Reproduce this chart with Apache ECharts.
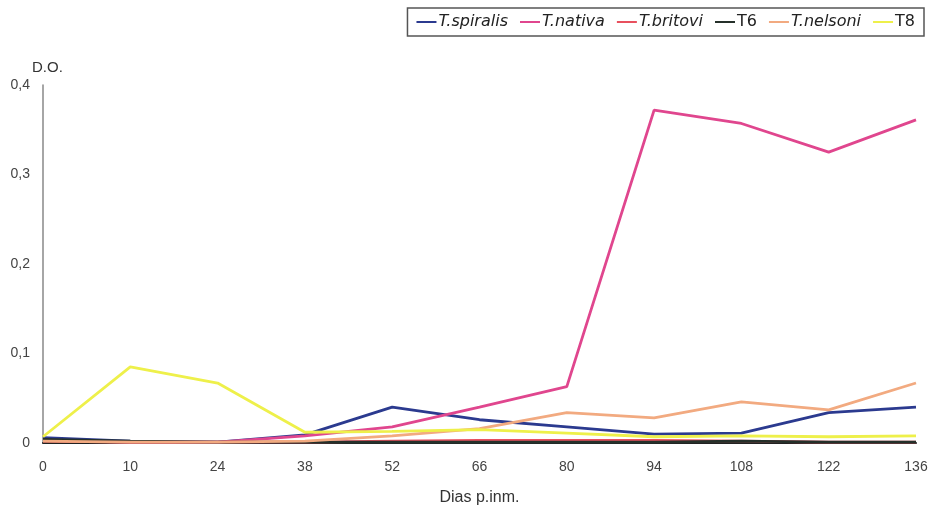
<!DOCTYPE html>
<html>
<head>
<meta charset="utf-8">
<script src="https://cdn.jsdelivr.net/npm/echarts@6/dist/echarts.min.js"></script>
<style>html,body{margin:0;padding:0;background:#fff}#c{width:932px;height:516px}</style>
</head>
<body>
<div id="c"></div>
<script>
var categories = ['0','10','24','38','52','66','80','94','108','122','136'];
var tSpiralis = [0.006,0.002,0.001,0.009,0.040,0.026,0.018,0.010,0.011,0.034,0.040];
var tNativa   = [0.003,0.001,0.001,0.008,0.018,0.040,0.063,0.372,0.357,0.325,0.361];
var tBritovi  = [0.002,0.001,0.001,0.001,0.002,0.003,0.003,0.003,0.002,0.001,0.001];
var t6        = [0.004,0.002,0.001,0.001,0.001,0.001,0.001,0.001,0.002,0.001,0.001];
var tNelsoni  = [0.002,0.001,0.001,0.002,0.008,0.016,0.034,0.028,0.046,0.037,0.067];
var t8        = [0.007,0.085,0.067,0.012,0.013,0.015,0.011,0.007,0.008,0.007,0.008];
var yTicks = ['0','0,1','0,2','0,3','0,4'];

var seriesDefs = [
  {name:'T.spiralis', data:tSpiralis, color:'#2b3a8f'},
  {name:'T.nativa', data:tNativa, color:'#e0468e'},
  {name:'T.britovi', data:tBritovi, color:'#e8505e'},
  {name:'T6', data:t6, color:'#25302a'},
  {name:'T.nelsoni', data:tNelsoni, color:'#f2aa80'},
  {name:'T8', data:t8, color:'#eef04a'}
];
var italicNames = {'T.spiralis':1,'T.nativa':1,'T.britovi':1,'T.nelsoni':1};

var chart = echarts.init(document.getElementById('c'));
chart.setOption({
  animation:false,
  backgroundColor:'#fff',
  textStyle:{fontFamily:'Liberation Sans'},
  legend:{
    right:8, top:8,
    borderColor:'#555', borderWidth:1.5, padding:[6,9,6,9],
    itemGap:12, itemWidth:20, itemHeight:2, icon:'rect',
    data:seriesDefs.map(function(s){return s.name;}),
    formatter:function(n){return italicNames[n]?'{i|'+n+'}':'{n|'+n+'}';},
    textStyle:{
      color:'#222', fontSize:16, padding:[0,0,0,-3],
      rich:{
        i:{fontStyle:'italic', fontSize:16, color:'#222', fontFamily:'DejaVu Sans'},
        n:{fontSize:16, color:'#222', fontFamily:'DejaVu Sans'}
      }
    }
  },
  graphic:[{type:'text', left:32, top:60, style:{text:'D.O.', fontSize:15, fill:'#333', fontFamily:'Liberation Sans'}}],
  grid:{left:43, right:16, top:85, bottom:73},
  xAxis:{
    type:'category', boundaryGap:false, data:categories,
    name:'Dias p.inm.', nameLocation:'middle', nameGap:47,
    nameTextStyle:{fontSize:16, color:'#333'},
    axisLine:{lineStyle:{color:'#222', width:2}},
    axisTick:{show:false},
    axisLabel:{color:'#444', fontSize:14, margin:17}
  },
  yAxis:{
    type:'value', min:0, max:0.4, interval:0.1,
    axisLine:{show:true, lineStyle:{color:'#888', width:1.5}},
    axisTick:{show:false},
    splitLine:{show:false},
    axisLabel:{color:'#444', fontSize:14, margin:13,
      formatter:function(v){return yTicks[Math.round(v*10)];}}
  },
  series:seriesDefs.map(function(s){
    return {name:s.name, type:'line', data:s.data, showSymbol:false, symbol:'none',
      lineStyle:{color:s.color, width:2.8}, itemStyle:{color:s.color}};
  })
});
</script>
</body>
</html>
